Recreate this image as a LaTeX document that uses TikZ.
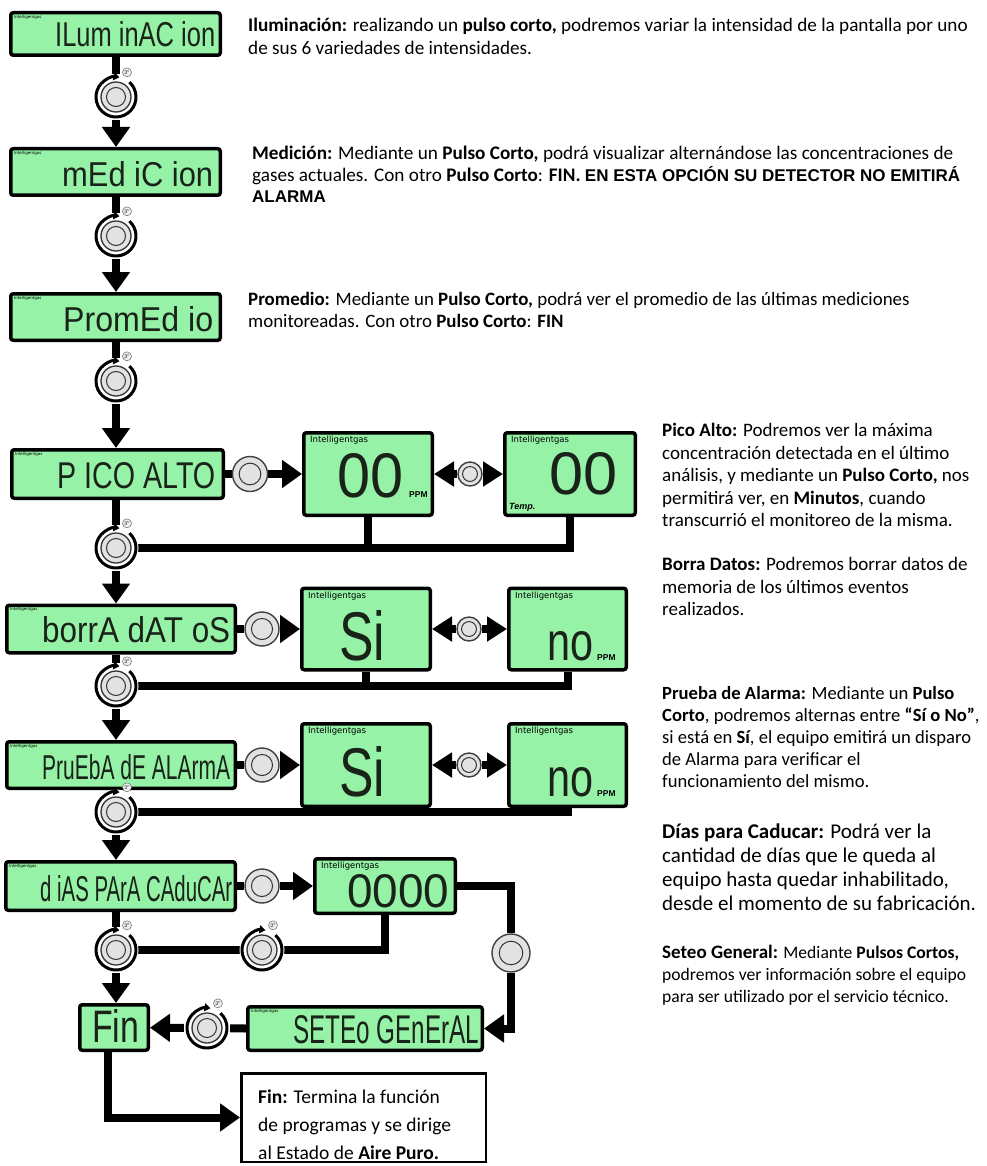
\documentclass[tikz,border=0pt]{standalone}
\usepackage{fontspec}
\usepackage{graphicx}
\setmainfont{Carlito}
\newfontfamily\lcdfont{Liberation Sans}
\newfontfamily\arialfont{Liberation Sans}
\newfontfamily\labfont{DejaVu Sans}
\usetikzlibrary{arrows.meta}
\definecolor{lcdg}{RGB}{150,242,166}
\definecolor{btng}{RGB}{226,226,226}
\definecolor{segc}{RGB}{25,35,25}
\pgfdeclarelayer{bg}
\pgfdeclarelayer{paper}
\pgfsetlayers{paper,bg,main}
\tikzset{
  lcdbox/.style={draw=black, line width=3.5pt, fill=lcdg, rounded corners=2.5pt, inner sep=0pt},
  conn/.style={line width=8pt, black},
  arr/.style={conn, -{Triangle[length=20pt,width=27pt]}},
  sarr/.style={conn, -{Triangle[length=20pt,width=24pt]}},
  seg/.style={inner sep=0pt, anchor=south west, text=segc},
  tinylab/.style={inner sep=0pt, anchor=north west, font=\labfont\fontsize{4}{4}\selectfont},
  boxlab/.style={inner sep=0pt, anchor=north west, font=\labfont\fontsize{8.5}{9}\selectfont},
  ppm/.style={inner sep=0pt, anchor=south west, font=\arialfont\bfseries\fontsize{8.5}{9}\selectfont},
  desc/.style={inner sep=0pt, anchor=north west, align=left},
  pbtn/.style={circle, draw=black!75, line width=1.4pt, fill=btng, inner sep=0pt},
  tring/.style={circle, inner sep=0pt, minimum size=46pt},
  badge/.style={circle, draw=black!60, fill=btng!60, line width=0.5pt, inner sep=0pt, minimum size=9pt, font=\fontsize{5.5}{5.5}\selectfont},
  tbox/.style={draw=black, line width=2.5pt, inner sep=0pt},
}
\newcommand\tbutton[2]{%
  \node[tring] (#1) at (#2) {};
  \fill[white] (#1.center) circle[radius=22.5pt];
  \draw[line width=3pt, -{Triangle[length=6pt,width=8pt]}] ([shift={(48:20pt)}]#1.center) arc[start angle=48, end angle=-280, radius=20pt];
  \draw[black!80, line width=1.3pt, fill=btng] (#1.center) circle[radius=15pt];
  \draw[black!80, line width=1pt] (#1.center) circle[radius=9.5pt];
  \node[badge] (#1q) at ([shift={(66:27pt)}]#1.center) {3"};
}
\newcommand\pbutton[3]{%
  \node[pbtn, minimum size=#3] (#1) at (#2) {};
  \draw[black!80, line width=1pt] (#1.center) circle[radius=0.31*#3];
}
\begin{document}
\begin{tikzpicture}[x=1pt,y=-1pt]
\begin{pgfonlayer}{paper}
\fill[white] (0,0) rectangle (986,1166);
\end{pgfonlayer}
\useasboundingbox (0,0) rectangle (986,1166);

% ---------- LCD panels ----------
\node[lcdbox, minimum width=209.5pt, minimum height=42.5pt] (l1) at (115.5,34) {};
\node[lcdbox, minimum width=209.5pt, minimum height=46.5pt] (l2) at (115.5,172) {};
\node[lcdbox, minimum width=209.5pt, minimum height=46.5pt] (l3) at (115.5,317) {};
\node[lcdbox, minimum width=211.5pt, minimum height=48.5pt] (l4) at (117.5,474) {};
\node[lcdbox, minimum width=228.5pt, minimum height=47.5pt] (l5) at (121,629) {};
\node[lcdbox, minimum width=228.5pt, minimum height=46.5pt] (l6) at (121,765) {};
\node[lcdbox, minimum width=229.5pt, minimum height=48.5pt] (l7) at (120.5,886) {};
\node[lcdbox, minimum width=68.5pt, minimum height=45.5pt] (lf) at (114,1027.5) {};
\node[lcdbox, minimum width=234.5pt, minimum height=43.5pt] (ls) at (365,1028.5) {};

\foreach \n in {l1,l2,l3,l4,l5,l6,l7,ls}
  \node[tinylab] (\n lab) at ([shift={(5pt,-4pt)}]\n.north west) {Intelligentgas};

\node[seg] (tx1) at (55,47) {\resizebox{160pt}{25pt}{\lcdfont ILum inAC ion}};
\node[seg] (tx2) at (62,187) {\resizebox{151pt}{25pt}{\lcdfont mEd iC ion}};
\node[seg] (tx3) at (63,332) {\resizebox{150pt}{25pt}{\lcdfont PromEd io}};
\node[seg] (tx4) at (57,489) {\resizebox{158pt}{26pt}{\lcdfont P ICO ALTO}};
\node[seg] (tx5) at (42,643) {\resizebox{188pt}{26pt}{\lcdfont borrA dAT oS}};
\node[seg] (tx6) at (42,780) {\resizebox{188pt}{25pt}{\lcdfont PruEbA dE ALArmA}};
\node[seg] (tx7) at (40,902) {\resizebox{192pt}{26pt}{\lcdfont d iAS PArA CAduCAr}};
\node[seg] (txf) at (92,1043) {\resizebox{47pt}{33pt}{\lcdfont Fin}};
\node[seg] (txs) at (293,1044) {\resizebox{186pt}{28pt}{\lcdfont SETEo GEnErAL}};

% ---------- value boxes ----------
\node[lcdbox, minimum width=128.5pt, minimum height=82.5pt] (ba) at (368,474) {};
\node[lcdbox, minimum width=130.5pt, minimum height=82.5pt] (bb) at (570,474) {};
\node[lcdbox, minimum width=128.5pt, minimum height=81.5pt] (bs1) at (366,629) {};
\node[lcdbox, minimum width=117.5pt, minimum height=81.5pt] (bn1) at (567.5,629) {};
\node[lcdbox, minimum width=128.5pt, minimum height=82.5pt] (bs2) at (366,765) {};
\node[lcdbox, minimum width=117.5pt, minimum height=82.5pt] (bn2) at (567.5,765) {};
\node[lcdbox, minimum width=140.5pt, minimum height=54.5pt] (bz) at (385,886) {};

\foreach \n in {ba,bb,bs1,bn1,bs2,bn2,bz}
  \node[boxlab] (\n lab) at ([shift={(8pt,-5pt)}]\n.north west) {Intelligentgas};

\node[seg] (va) at (337,498) {\resizebox{66pt}{44pt}{\lcdfont 00}};
\node[ppm] (vap) at (409,498) {PPM};
\node[seg] (vb) at (549,495) {\resizebox{68pt}{42pt}{\lcdfont 00}};
\node[ppm, font=\arialfont\bfseries\itshape\fontsize{9}{9}\selectfont] (vbt) at (509,512) {Temp.};
\node[seg] (vs1) at (339,661) {\resizebox{46pt}{50pt}{\lcdfont Si}};
\node[seg] (vn1) at (547,661) {\resizebox{46pt}{29pt}{\lcdfont no}};
\node[ppm] (vn1p) at (597,661) {PPM};
\node[seg] (vs2) at (339,797) {\resizebox{46pt}{50pt}{\lcdfont Si}};
\node[seg] (vn2) at (547,797) {\resizebox{46pt}{29pt}{\lcdfont no}};
\node[ppm] (vn2p) at (597,797) {PPM};
\node[seg] (vz) at (347,908) {\resizebox{102pt}{33pt}{\lcdfont 0000}};

% ---------- buttons ----------
\tbutton{b1}{116,97}
\tbutton{b2}{116,236}
\tbutton{b3}{116,381}
\tbutton{b4}{116,548}
\tbutton{b5}{116,686}
\tbutton{b6}{116,812}
\tbutton{b7}{116,950}
\tbutton{b8}{262,950}
\tbutton{b9}{207,1028}
\pbutton{p1}{250,474}{35pt}
\pbutton{p2}{470,474}{24pt}
\pbutton{p3}{262,629}{34pt}
\pbutton{p4}{469,629}{24pt}
\pbutton{p5}{262,765}{34pt}
\pbutton{p6}{469,765}{24pt}
\pbutton{p7}{262,886}{34pt}
\pbutton{p8}{511,953}{38pt}

% ---------- Fin text box ----------
\node[tbox, minimum width=244.5pt, minimum height=88.5pt] (tb) at (363.5,1117.5) {};
\node[desc, font=\fontsize{19.5}{28}\selectfont] (tbt) at (258,1084)
 {\strut\textbf{Fin:} Termina la función\\\strut de programas y se dirige\\\strut al Estado de \textbf{Aire Puro.}};

% ---------- descriptions ----------
\node[desc, font=\fontsize{19.2}{23}\selectfont] (d1) at (248,15)
 {\strut\textbf{Iluminación:} realizando un \textbf{pulso corto,} podremos variar la intensidad de la pantalla por uno\\
  \strut de sus 6 variedades de intensidades.};
\node[desc, font=\fontsize{19.2}{20.5}\selectfont] (d2) at (252,145)
 {\strut\textbf{Medición:} Mediante un \textbf{Pulso Corto,} podrá visualizar alternándose las concentraciones de\\
  \strut gases actuales. Con otro \textbf{Pulso Corto}: \textbf{FIN.} {\arialfont\bfseries\fontsize{17}{18}\selectfont EN ESTA OPCIÓN SU DETECTOR NO EMITIRÁ}\\
  \strut{\arialfont\bfseries\fontsize{17}{18}\selectfont ALARMA}};
\node[desc, font=\fontsize{18.9}{22}\selectfont] (d3) at (248,290)
 {\strut\textbf{Promedio:} Mediante un \textbf{Pulso Corto,} podrá ver el promedio de las últimas mediciones\\
  \strut monitoreadas. Con otro \textbf{Pulso Corto}: \textbf{FIN}};
\node[desc, font=\fontsize{19}{22.5}\selectfont] (d4) at (662,421)
 {\strut\textbf{Pico Alto:} Podremos ver la máxima\\
  \strut concentración detectada en el último\\
  \strut análisis, y mediante un \textbf{Pulso Corto,} nos\\
  \strut permitirá ver, en \textbf{Minutos}, cuando\\
  \strut transcurrió el monitoreo de la misma.};
\node[desc, font=\fontsize{19}{22.5}\selectfont] (d5) at (662,555)
 {\strut\textbf{Borra Datos:} Podremos borrar datos de\\
  \strut memoria de los últimos eventos\\
  \strut realizados.};
\node[desc, font=\fontsize{18.6}{22}\selectfont] (d6) at (662,684)
 {\strut\textbf{Prueba de Alarma:} Mediante un \textbf{Pulso}\\
  \strut\textbf{Corto}, podremos alternas entre \textbf{“Sí o No”},\\
  \strut si está en \textbf{Sí}, el equipo emitirá un disparo\\
  \strut de Alarma para verificar el\\
  \strut funcionamiento del mismo.};
\node[desc, font=\fontsize{21}{24}\selectfont] (d7) at (662,821)
 {\strut\textbf{Días para Caducar:} Podrá ver la\\
  \strut cantidad de días que le queda al\\
  \strut equipo hasta quedar inhabilitado,\\
  \strut desde el momento de su fabricación.};
\node[desc, font=\fontsize{17.6}{22}\selectfont] (d8) at (662,943)
 {\strut{\fontsize{19}{22}\selectfont\textbf{Seteo General:}} Mediante \textbf{Pulsos Cortos,}\\
  \strut podremos ver información sobre el equipo\\
  \strut para ser utilizado por el servicio técnico.};

% ---------- connectors ----------
\begin{pgfonlayer}{bg}
\draw[conn] (l1.south -| b1) -- (b1);
\draw[arr] (b1) -- (b1 |- l2.north);
\draw[conn] (l2.south -| b2) -- (b2);
\draw[arr] (b2) -- (b2 |- l3.north);
\draw[conn] (l3.south -| b3) -- (b3);
\draw[arr] (b3) -- (b3 |- l4.north);
\draw[conn] (l4.south -| b4) -- (b4);
\draw[arr] (b4) -- (b4 |- l5.north);
\draw[conn] (l5.south -| b5) -- (b5);
\draw[arr] (b5) -- (b5 |- l6.north);
\draw[conn] (l6.south -| b6) -- (b6);
\draw[arr] (b6) -- (b6 |- l7.north);
\draw[conn] (l7.south -| b7) -- (b7);
\draw[arr] (b7) -- (b7 |- lf.north);
% rows
\draw[conn] (l4.east) -- (p1);
\draw[arr] (p1) -- (ba);
\draw[sarr] (p2) -- (ba);
\draw[sarr] (p2) -- (bb);
\draw[conn] (b4.center) -| (bb.south);
\draw[conn] (ba.south) -- (ba.south |- b4.center);
\draw[conn] (l5.east) -- (p3);
\draw[arr] (p3) -- (bs1);
\draw[sarr] (p4) -- (bs1);
\draw[sarr] (p4) -- (bn1);
\draw[conn] (b5.center) -| (bn1.south);
\draw[conn] (bs1.south) -- (bs1.south |- b5.center);
\draw[conn] (l6.east) -- (p5);
\draw[arr] (p5) -- (bs2);
\draw[sarr] (p6) -- (bs2);
\draw[sarr] (p6) -- (bn2);
\draw[conn] (b6.center) -| (bn2.south);
\draw[conn] (bs2.south) -- (bs2.south |- b6.center);
% dias
\draw[conn] (l7.east) -- (p7);
\draw[arr] (p7) -- (bz);
\draw[conn] (bz.east) -| (p8);
\draw[arr] (p8) |- (ls.east);
\draw[conn] (bz.south) |- (b8.center);
\draw[conn] (b8.center) -- (b7.center);
\draw[conn] (ls.west) -- (b9);
\draw[arr] (b9) -- (lf);
\draw[arr] ([xshift=-6pt]lf.south) |- (tb.west);
\end{pgfonlayer}
\end{tikzpicture}
\end{document}
